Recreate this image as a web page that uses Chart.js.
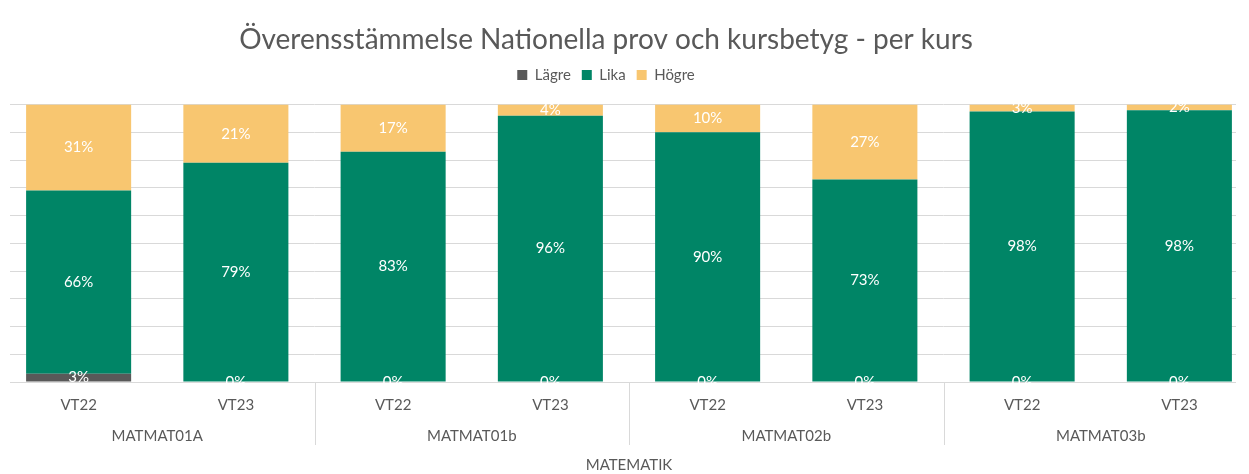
<!DOCTYPE html>
<html>
<head>
<meta charset="utf-8">
<script src="https://cdn.jsdelivr.net/npm/chart.js@4.4.1/dist/chart.umd.min.js"></script>
<style>
html,body{margin:0;padding:0;background:#fff;overflow:hidden;}
#wrap{width:1249px;height:474px;position:relative;overflow:hidden;}
#c{position:absolute;left:-46px;top:0;}
</style>
</head>
<body>
<div id="wrap"><canvas id="c" width="1304" height="474"></canvas></div>
<script>
const categories = ['VT22','VT23','VT22','VT23','VT22','VT23','VT22','VT23'];
const courses = ['MATMAT01A','MATMAT01b','MATMAT02b','MATMAT03b'];
const lagre = [3,0,0,0,0,0,0,0];
const lika = [66,79,83,96,90,73,97.5,98];
const hogre = [31,21,17,4,10,27,2.5,2];

const FONT = "Lato, 'Open Sans', sans-serif";
const GREY = '#595959';
const GRID = '#d9d9d9';

// trims the grid/axis line ends like the original plot area
const gridTrim = {
  id: 'gridTrim',
  beforeDatasetsDraw(chart) {
    const a = chart.chartArea;
    const ctx = chart.ctx;
    ctx.save();
    ctx.fillStyle = '#ffffff';
    ctx.fillRect(a.left - 1, a.top - 2, 11, a.bottom - a.top + 4);
    ctx.fillRect(a.right - 22, a.top - 2, 30, a.bottom - a.top + 4);
    ctx.restore();
  }
};

const labelPlugin = {
  id: 'segLabels',
  afterDatasetsDraw(chart) {
    const ctx = chart.ctx;
    ctx.save();
    ctx.fillStyle = '#ffffff';
    ctx.font = '15px ' + FONT;
    ctx.textAlign = 'center';
    ctx.textBaseline = 'middle';
    chart.data.datasets.forEach((ds, i) => {
      const meta = chart.getDatasetMeta(i);
      meta.data.forEach((el, j) => {
        const v = ds.data[j];
        ctx.fillText(Math.round(v) + '%', el.x, (el.y + el.base) / 2);
      });
    });
    ctx.restore();
  }
};

const groupPlugin = {
  id: 'groups',
  afterDraw(chart) {
    const ctx = chart.ctx;
    const xs = chart.scales.x;
    const area = chart.chartArea;
    ctx.save();
    ctx.strokeStyle = GRID;
    ctx.lineWidth = 1;
    const step = xs.getPixelForValue(1) - xs.getPixelForValue(0);
    for (let g = 1; g < courses.length; g++) {
      const x = Math.round(xs.getPixelForValue(g * 2) - step / 2) + 0.5;
      ctx.beginPath();
      ctx.moveTo(x, area.bottom);
      ctx.lineTo(x, area.bottom + 63);
      ctx.stroke();
    }
    ctx.fillStyle = GREY;
    ctx.font = '15px ' + FONT;
    ctx.textAlign = 'center';
    ctx.textBaseline = 'middle';
    courses.forEach((c, g) => {
      const x = (xs.getPixelForValue(g * 2) + xs.getPixelForValue(g * 2 + 1)) / 2;
      ctx.fillText(c, x, area.bottom + 54);
    });
    ctx.restore();
  }
};

new Chart(document.getElementById('c'), {
  type: 'bar',
  data: {
    labels: categories,
    datasets: [
      {label: 'Lägre', data: lagre, backgroundColor: '#595959', xAxisID: 'x', yAxisID: 'y'},
      {label: 'Lika', data: lika, backgroundColor: '#008566', xAxisID: 'x', yAxisID: 'y'},
      {label: 'Högre', data: hogre, backgroundColor: '#f8c670', xAxisID: 'x', yAxisID: 'y'}
    ]
  },
  options: {
    responsive: false,
    devicePixelRatio: 1,
    animation: false,
    layout: {padding: 0},
    datasets: {bar: {categoryPercentage: 1, barPercentage: 0.668}},
    plugins: {
      title: {
        display: true,
        text: 'Överensstämmelse Nationella prov och kursbetyg - per kurs',
        color: GREY,
        font: {family: FONT, size: 28, weight: 'normal', lineHeight: 1.2},
        padding: {top: 23, bottom: 0}
      },
      legend: {
        display: true,
        labels: {
          color: GREY,
          font: {family: FONT, size: 15},
          boxWidth: 10, boxHeight: 10,
          padding: 11
        }
      },
      tooltip: {enabled: false}
    },
    scales: {
      x: {
        stacked: true,
        grid: {display: false, drawTicks: false},
        border: {display: true, color: GRID},
        ticks: {color: GREY, font: {family: FONT, size: 15}, padding: 14, maxRotation: 0},
        title: {display: true, text: 'MATEMATIK', color: GREY, font: {family: FONT, size: 15}, padding: {top: 28, bottom: 0}}
      },
      xTop: {
        type: 'category',
        position: 'top',
        display: true,
        grid: {display: false, drawTicks: false},
        border: {display: false},
        ticks: {display: false},
        afterFit(s) { s.height = 12; }
      },
      y: {
        stacked: true,
        min: 0, max: 100,
        ticks: {display: false, stepSize: 10},
        grid: {color: GRID, drawTicks: false},
        border: {display: false},
        afterFit(s) { s.width = 46; }
      }
    }
  },
  plugins: [gridTrim, labelPlugin, groupPlugin]
});
</script>
</body>
</html>
